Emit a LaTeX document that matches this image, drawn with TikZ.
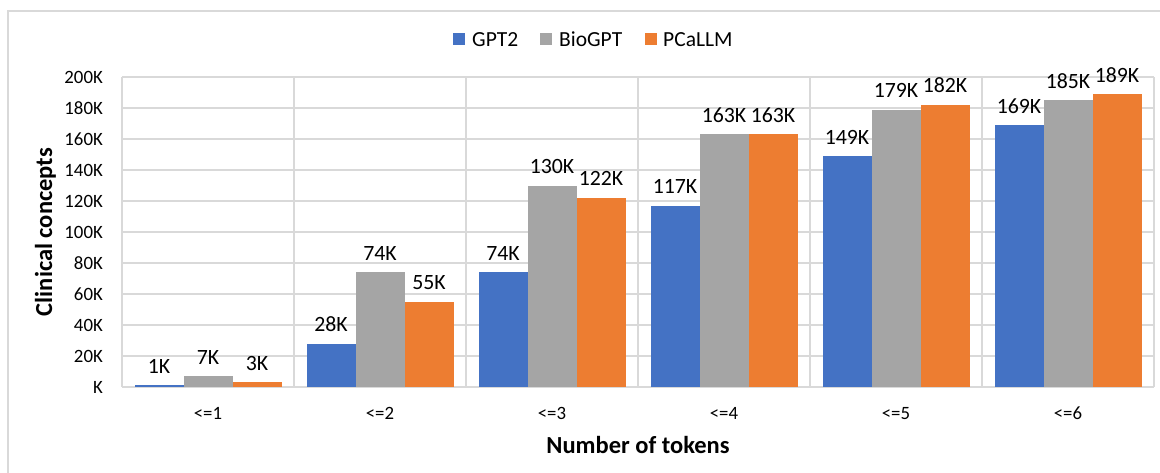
\documentclass[tikz,border=0pt]{standalone}
\usepackage{fontspec}
\setmainfont{Carlito}
\definecolor{cgpt}{HTML}{4472C4}
\definecolor{cbio}{HTML}{A5A5A5}
\definecolor{cpca}{HTML}{ED7D31}
\definecolor{cgrid}{HTML}{D9D9D9}
\begin{document}
\begin{tikzpicture}[x=1pt,y=-1pt,
  gridline/.style={draw=cgrid, line width=1.1pt},
  ticklabel/.style={font=\fontsize{18.8}{20}\selectfont, inner sep=0pt, anchor=east},
  catlabel/.style={font=\fontsize{18.8}{20}\selectfont, inner sep=0pt, anchor=base},
  datalabel/.style={font=\fontsize{21.8}{24}\selectfont, inner sep=0pt, anchor=base},
  legendtext/.style={font=\fontsize{21.5}{24}\selectfont, inner sep=0pt, anchor=base west},
  axistitle/.style={font=\fontsize{24.5}{28}\selectfont\bfseries, inner sep=0pt, anchor=base}]
\useasboundingbox (0,0) rectangle (1160,472);
\clip (0,0) rectangle (1160,472);
\fill[white] (0,0) rectangle (1160,472);
\draw[cgrid, line width=1.3pt] (8,11) rectangle (1180,490);
% gridlines
\foreach \k in {0,...,10} {
  \draw[gridline] (122,{387-31*\k}) -- (1154,{387-31*\k});
}
\foreach \i in {0,...,6} {
  \draw[gridline] ({122+172*\i},77) -- ({122+172*\i},387);
}
% tick labels
\foreach \k/\t in {0/K,1/20K,2/40K,3/60K,4/80K,5/100K,6/120K,7/140K,8/160K,9/180K,10/200K} {
  \node[ticklabel] (tick\k) at (103,{387-31*\k}) {\t};
}
% bars and data labels
\foreach \i/\a/\b/\c in {0/1/7/3, 1/28/74/55, 2/74/130/122, 3/117/163/163, 4/149/179/182, 5/169/185/189} {
  \pgfmathsetmacro{\xs}{122+172*\i+12.5}
  \fill[cgpt] (\xs,387) rectangle ++(49,{-1.55*\a});
  \fill[cbio] ({\xs+49},387) rectangle ++(49,{-1.55*\b});
  \fill[cpca] ({\xs+98},387) rectangle ++(49,{-1.55*\c});
  \node[datalabel] (la\i) at ({\xs+24.5},{387-1.55*\a-12}) {\a K};
  \node[datalabel] (lb\i) at ({\xs+73.5},{387-1.55*\b-12}) {\b K};
  \node[datalabel] (lc\i) at ({\xs+122.5},{387-1.55*\c-12}) {\c K};
}
% category labels
\foreach \i in {0,...,5} {
  \pgfmathtruncatemacro{\n}{\i+1}
  \node[catlabel] (cat\i) at ({122+172*\i+86},419) {<=\n};
}
% axis titles
\node[axistitle] (xtitle) at (638,453) {Number of tokens};
\node[axistitle, rotate=90] (ytitle) at (52,232) {Clinical concepts};
% legend
\fill[cgpt] (453,33) rectangle (465,45);
\node[legendtext] (lg1) at (472,46) {GPT2};
\fill[cbio] (540,33) rectangle (552,45);
\node[legendtext] (lg2) at (559,46) {BioGPT};
\fill[cpca] (645,33) rectangle (657,45);
\node[legendtext] (lg3) at (663,46) {PCaLLM};
\end{tikzpicture}
\end{document}
